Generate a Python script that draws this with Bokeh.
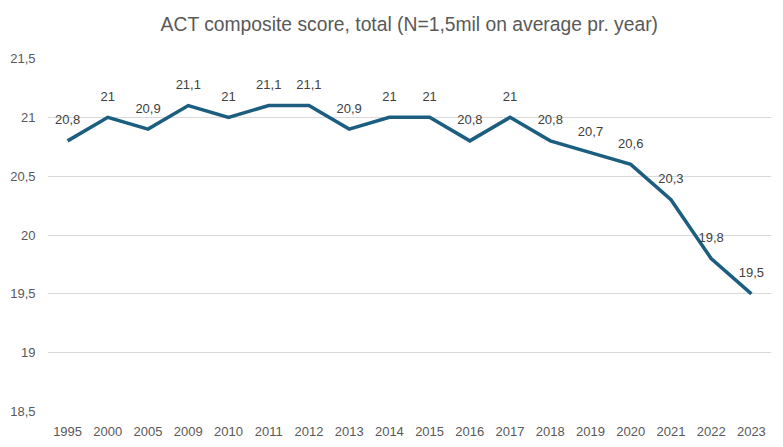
from bokeh.plotting import figure
from bokeh.models import ColumnDataSource, FixedTicker, CustomJSTickFormatter, LabelSet, Title
from bokeh.core.properties import value
from bokeh.embed import file_html
from bokeh.resources import INLINE

years = ["1995", "2000", "2005", "2009", "2010", "2011", "2012", "2013", "2014",
         "2015", "2016", "2017", "2018", "2019", "2020", "2021", "2022", "2023"]
scores = [20.8, 21.0, 20.9, 21.1, 21.0, 21.1, 21.1, 20.9, 21.0,
          21.0, 20.8, 21.0, 20.8, 20.7, 20.6, 20.3, 19.8, 19.5]
y_ticks = [18.5, 19.0, 19.5, 20.0, 20.5, 21.0, 21.5]
title_text = "ACT composite score, total (N=1,5mil on average pr. year)"

labels = [("%g" % v).replace(".", ",") for v in scores]
src = ColumnDataSource(dict(x=years, y=scores, lab=labels))

FONT = "Liberation Sans"
GREY = "#595959"

p = figure(x_range=years, y_range=(18.5, 21.5), frame_width=724, frame_height=353,
           output_backend="svg", toolbar_location=None,
           min_border_left=47, min_border_right=4, min_border_top=58, min_border_bottom=20)

p.line("x", "y", source=src, line_color="#1b5e80", line_width=3.5, line_join="miter")

p.add_layout(LabelSet(x="x", y="y", text="lab", source=src, y_offset=21,
                      text_align="center", text_baseline="middle",
                      text_font=value(FONT), text_font_size="13px", text_color="#404040"))

# chart title; a blank second line lifts it away from the frame
p.add_layout(Title(text=title_text + "\n\u00a0", align="center", text_font=FONT,
                   text_font_size="19.3px", text_font_style="normal", text_color=GREY,
                   standoff=5), "above")

p.outline_line_color = None
p.background_fill_color = "white"
p.border_fill_color = "white"
p.xgrid.grid_line_color = None
p.ygrid.grid_line_color = "#d9d9d9"
p.ygrid.grid_line_width = 1

p.yaxis.ticker = FixedTicker(ticks=y_ticks)
p.yaxis.formatter = CustomJSTickFormatter(code="return tick.toString().replace('.', ',');")

for ax in (p.xaxis, p.yaxis):
    ax.axis_line_color = None
    ax.major_tick_line_color = None
    ax.minor_tick_line_color = None
    ax.major_label_text_font = FONT
    ax.major_label_text_font_size = "13px"
    ax.major_label_text_color = GREY
p.yaxis.major_label_standoff = 12
p.xaxis.major_label_standoff = 15
p.xaxis.major_tick_out = 0
p.yaxis.major_tick_out = 0

open("out.html", "w").write(file_html(p, INLINE))
